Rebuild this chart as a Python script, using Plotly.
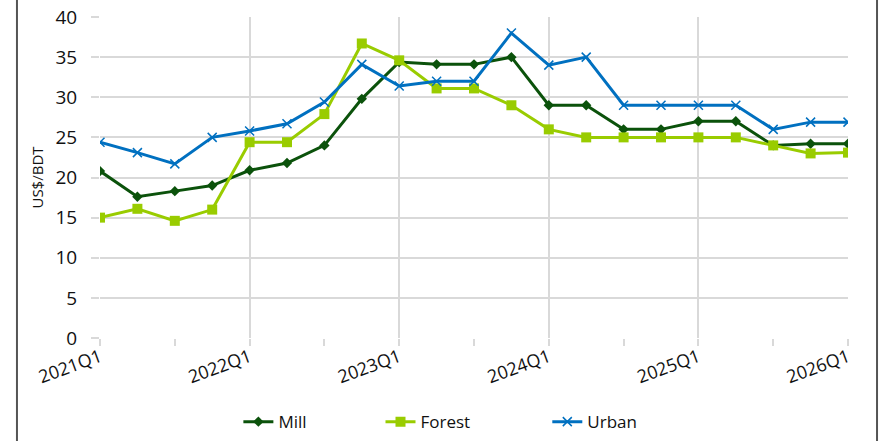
import plotly.graph_objects as go

quarters = [f"{y}Q{q}" for y in range(2021, 2026) for q in range(1, 5)] + ["2026Q1"]
mill = [20.8, 17.6, 18.3, 19.0, 20.9, 21.8, 24.0, 29.8, 34.4, 34.1, 34.1, 35.0,
        29.0, 29.0, 26.0, 26.0, 27.0, 27.0, 24.0, 24.2, 24.2]
forest = [15.0, 16.1, 14.6, 16.0, 24.4, 24.4, 27.9, 36.7, 34.6, 31.1, 31.1, 29.0,
          26.0, 25.0, 25.0, 25.0, 25.0, 25.0, 24.0, 23.0, 23.1]
urban = [24.4, 23.1, 21.7, 25.0, 25.8, 26.7, 29.4, 34.1, 31.4, 32.0, 32.0, 38.0,
         34.0, 35.0, 29.0, 29.0, 29.0, 29.0, 26.0, 26.9, 26.9]
y_ticks = [0, 5, 10, 15, 20, 25, 30, 35, 40]

idx = list(range(len(quarters)))
major = [i for i, q in enumerate(quarters) if q.endswith("Q1")]
minor = [i for i, q in enumerate(quarters) if q.endswith("Q3")]

FONT = "Open Sans, sans-serif"
GRID = "#d9d9d9"

fig = go.Figure()
fig.add_trace(go.Scatter(x=idx, y=mill, name="Mill", mode="lines+markers", legend="legend",
                         line=dict(color="#0b520b", width=3),
                         marker=dict(symbol="diamond", size=8, color="#0b520b")))
fig.add_trace(go.Scatter(x=idx, y=forest, name="Forest", mode="lines+markers", legend="legend2",
                         line=dict(color="#99cc00", width=3),
                         marker=dict(symbol="square", size=10, color="#99cc00")))
fig.add_trace(go.Scatter(x=idx, y=urban, name="Urban", mode="lines+markers", legend="legend3",
                         line=dict(color="#0070c0", width=3),
                         marker=dict(symbol="x-thin", size=9, color="#0070c0",
                                     line=dict(color="#0070c0", width=1.5))))

# plot area: x 100..848, y 17..338 (px)
leg_common = dict(orientation="h", yanchor="middle", y=-0.262, xanchor="left",
                  font=dict(family=FONT, size=17, color="#111"), bgcolor="rgba(0,0,0,0)")

fig.update_layout(
    width=884, height=441,
    margin=dict(l=100, r=36, t=17, b=103, autoexpand=False),
    paper_bgcolor="white", plot_bgcolor="white",
    font=dict(family=FONT, size=16, color="#111"),
    showlegend=True,
    legend=dict(x=0.185, **leg_common),
    legend2=dict(x=0.375, **leg_common),
    legend3=dict(x=0.598, **leg_common),
    xaxis=dict(
        range=[0, 20], tickmode="array", tickvals=major,
        ticktext=[quarters[i] for i in major], tickangle=-20,
        showgrid=True, gridcolor=GRID, gridwidth=2,
        ticks="outside", ticklen=7, tickcolor=GRID, tickwidth=2,
        minor=dict(tickmode="array", tickvals=minor, ticks="outside", ticklen=7,
                   tickcolor=GRID, tickwidth=2, showgrid=False),
        zeroline=False, showline=False, tickfont=dict(size=18), automargin=False,
        ticklabeloverflow="allow", ticklabelstandoff=-6,
    ),
    yaxis=dict(
        range=[0, 40], tickmode="array", tickvals=y_ticks,
        showgrid=True, gridcolor=GRID, gridwidth=2,
        zeroline=False, showline=False, ticks="outside", ticklen=8,
        tickcolor=GRID, tickwidth=2, automargin=False,
        ticklabeloverflow="allow", ticklabelstandoff=10,
        title=dict(text="US$/BDT", font=dict(size=15), standoff=8),
        tickfont=dict(size=19),
    ),
    shapes=[
        dict(type="line", xref="paper", yref="paper", x0=-0.111, x1=-0.111,
             y0=-0.33, y1=1.06, line=dict(color="#555", width=2)),
        dict(type="line", xref="paper", yref="paper", x0=1.0388, x1=1.0388,
             y0=-0.33, y1=1.06, line=dict(color="#555", width=2)),
    ],
)

fig.write_html("out.html", config={"displayModeBar": False},
               post_script="document.body.style.margin='0';")
